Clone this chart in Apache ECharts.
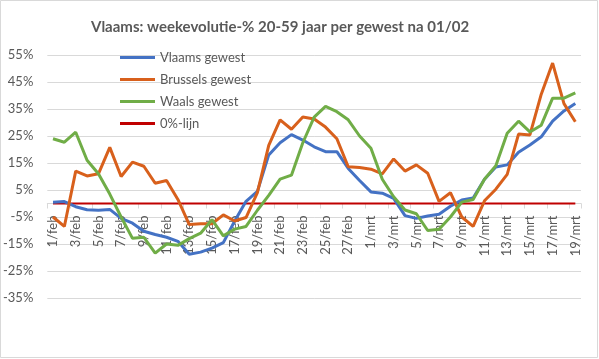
<!DOCTYPE html>
<html>
<head>
<meta charset="utf-8">
<script src="https://cdn.jsdelivr.net/npm/echarts@6/dist/echarts.min.js"></script>
<style>
html,body{margin:0;padding:0;background:#fff;}
#c{width:599px;height:359px;}
</style>
</head>
<body>
<div id="c"></div>
<script>
const categories = ["1/feb","2/feb","3/feb","4/feb","5/feb","6/feb","7/feb","8/feb","9/feb","10/feb",
"11/feb","12/feb","13/feb","14/feb","15/feb","16/feb","17/feb","18/feb","19/feb","20/feb",
"21/feb","22/feb","23/feb","24/feb","25/feb","26/feb","27/feb","28/feb",
"1/mrt","2/mrt","3/mrt","4/mrt","5/mrt","6/mrt","7/mrt","8/mrt","9/mrt","10/mrt",
"11/mrt","12/mrt","13/mrt","14/mrt","15/mrt","16/mrt","17/mrt","18/mrt","19/mrt"];

const vlaams = [0.5,0.7,-1.2,-2.3,-2.5,-2.2,-5.5,-7.3,-10.3,-11.5,
-12.5,-14,-18.8,-18,-16.5,-14.5,-6.5,0.8,4.5,18,
22.5,25.5,23.5,21,19.2,19.2,13,8.5,
4.3,3.8,1.9,-4.5,-5.5,-4.6,-4,-1,1.3,2,
9,13.5,14.3,19,21.7,24.7,30.5,34.3,37];

const brussels = [-5,-8.5,12,10.2,11,20.8,10,15.3,13.8,7.5,
8.5,1.5,-7.8,-7.5,-7.5,-4.2,-6.5,-5.2,4,21.5,
31,27.5,32,31.3,28.3,24,13.6,13.3,
12.7,11,16.5,12,14.3,11.2,0.8,4,-5,-8.5,
1,5.3,10.8,25.7,25.4,40.5,52,37,30.3];

const waals = [24,22.7,26.4,16,11,3.5,-5,-12.9,-12.5,-18.4,
-15,-15.5,-13,-11,-6,-12,-9.5,-8.5,-2.5,3,
9,10.5,22.5,32,36,34,31,25,
20.5,9,2.5,-2.4,-3.8,-10,-9.5,-5,0.5,1.5,
9,14,26,30.5,26.5,29,39,39,41];

const nulLijn = categories.map(() => 0);

const yTicks = {min: -35, max: 55, step: 10};

const seriesNames = ["Vlaams gewest","Brussels gewest","Waals gewest","0%-lijn"];
const seriesColors = ["#4472C4","#D8601C","#70AD47","#C00000"];

const gridTop = 55, gridBottom = 61, H = 359;
const gridH = H - gridTop - gridBottom;
const zeroOffset = -gridH * (0 - yTicks.min) / (yTicks.max - yTicks.min);

const chart = echarts.init(document.getElementById('c'), null, {renderer:'canvas'});
const font = 'Lato, "Open Sans", sans-serif';
const datas = [vlaams, brussels, waals, nulLijn];

chart.setOption({
  animation: false,
  backgroundColor: '#fff',
  title: {
    text: 'Vlaams: weekevolutie-% 20-59 jaar per gewest na 01/02',
    left: 86, top: 15,
    textStyle: {fontFamily: font, fontSize: 15, fontWeight: 'bold', color: '#595959'}
  },
  legend: {
    orient: 'vertical',
    left: 115, top: 45,
    itemWidth: 35, itemHeight: 3, itemGap: 7,
    icon: 'rect',
    data: seriesNames,
    textStyle: {fontFamily: font, fontSize: 13, color: '#595959', lineHeight: 15}
  },
  grid: {left: 47, right: 18, top: gridTop, bottom: gridBottom},
  xAxis: {
    type: 'category',
    data: categories,
    boundaryGap: true,
    position: 'bottom',
    offset: zeroOffset,
    axisLine: {onZero: false, lineStyle: {color: '#d9d9d9', width: 1}},
    axisTick: {show: true, interval: 1, length: 5, lineStyle: {color: '#d9d9d9'}},
    axisLabel: {interval: 1, rotate: 90, margin: 12, fontFamily: font, fontSize: 13, color: '#595959'},
    splitLine: {show: false}
  },
  yAxis: {
    type: 'value',
    min: yTicks.min, max: yTicks.max, interval: yTicks.step,
    axisLine: {show: false},
    axisTick: {show: false},
    axisLabel: {formatter: '{value}%', margin: 14, fontFamily: font, fontSize: 13, color: '#595959'},
    splitLine: {lineStyle: {color: '#d9d9d9', width: 1}}
  },
  graphic: [{
    type: 'rect', silent: true, z: -1,
    shape: {x: 0.5, y: 0.5, width: 597, height: 357},
    style: {fill: null, stroke: '#d9d9d9', lineWidth: 1}
  }],
  series: seriesNames.map((n, i) => ({
    name: n,
    type: 'line',
    data: datas[i],
    showSymbol: false,
    symbol: 'none',
    color: seriesColors[i],
    lineStyle: {width: i === 3 ? 2 : 3, color: seriesColors[i]},
    z: i === 3 ? 1 : 2
  }))
});
</script>
</body>
</html>
